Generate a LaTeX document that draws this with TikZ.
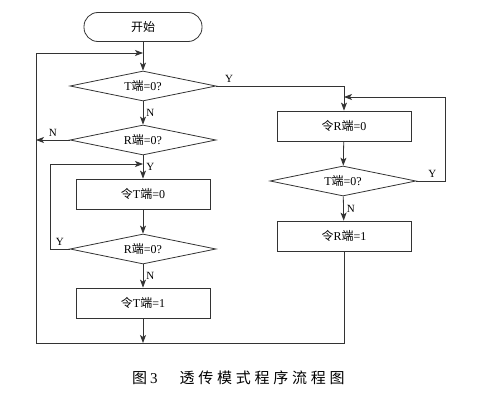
\documentclass[tikz,border=0pt]{standalone}
\usepackage{fontspec}
\setmainfont{Liberation Serif}
\newfontfamily\cjk{Noto Sans CJK SC}
\newfontfamily\cjkcap{Noto Sans CJK SC}[LetterSpace=25]
\usetikzlibrary{arrows.meta,shapes.geometric}
\definecolor{cInk}{HTML}{333333}
\newcommand{\zh}[1]{{\cjk #1}}
\tikzset{
  base/.style    = {draw=cInk, line width=0.8pt, align=center, inner sep=0pt,
                    font=\fontsize{12}{14}\selectfont},
  term/.style    = {base, rounded corners=14pt, minimum width=118pt, minimum height=29pt},
  proc/.style    = {base, rectangle, minimum width=134pt, minimum height=30pt},
  decide/.style  = {base, diamond, aspect=4.87, minimum width=146pt, minimum height=30pt},
  flow/.style    = {-{Stealth[length=8pt,width=6pt,inset=2pt]}, line width=0.8pt, draw=cInk},
  yn/.style      = {font=\fontsize{11}{12}\selectfont, inner sep=3pt},
}

\begin{document}
\begin{tikzpicture}[x=1pt, y=-1pt]
  \useasboundingbox (0,0) rectangle (479,404);
  % ---- left column ----
  \node[term]   (start) at (143,27)  {\zh{开始}};
  \node[decide] (tq)    at (143,86)  {T\zh{端}=0?};
  \node[decide] (rq)    at (143,140) {R\zh{端}=0?};
  \node[proc]   (tlow)  at (143,194) {\zh{令}T\zh{端}=0};
  \node[decide] (rqb)   at (143,249) {R\zh{端}=0?};
  \node[proc]   (thigh) at (143,303) {\zh{令}T\zh{端}=1};
  % ---- right column ----
  \node[proc]   (rlow)  at (344,126) {\zh{令}R\zh{端}=0};
  \node[decide] (tqb)   at (343,181) {T\zh{端}=0?};
  \node[proc]   (rhigh) at (344,236) {\zh{令}R\zh{端}=1};
  % ---- junctions ----
  \coordinate (jtop)  at (143,53);
  \coordinate (jbot)  at (143,343);
  \coordinate (cbl)   at (36,343);
  \coordinate (jleft) at (36,140);
  \coordinate (jmid)  at (143,164);
  \coordinate (cml)   at (50,164);
  \coordinate (jr)    at (344,97);
  \coordinate (cr)    at (445,97);
  % ---- connectors ----
  \draw[flow] (start) -- (tq);
  \draw[flow] (tq) -- node[yn, right] {N} (rq);
  \draw[flow] (rq) -- node[yn, right] {Y} (tlow);
  \draw[flow] (tlow) -- (rqb);
  \draw[flow] (rqb) -- node[yn, right] {N} (thigh);
  \draw[flow] (thigh) -- (jbot);
  \draw[flow] (rq.west) -- node[yn, above] {N} (jleft);
  \draw[flow] (rqb.west) -- node[yn, above] {Y} (cml |- rqb.west) -- (cml) -- (jmid);
  \draw[flow] (rhigh.south) |- (cbl) |- (jtop);
  \draw[flow] (tq.east) -| node[yn, pos=0.05, above] {Y} (rlow);
  \draw[flow] (rlow) -- (tqb);
  \draw[flow] (tqb) -- node[yn, right] {N} (rhigh);
  \draw[flow] (tqb.east) -| node[yn, pos=0.28, above] {Y} (cr) -- (jr);
  % ---- caption ----
  \node[font=\fontsize{15}{17}\selectfont, anchor=west, inner sep=0pt] (cap) at (132,378)
    {{\cjk 图}\hspace{3pt}3\hspace{22pt}{\cjkcap 透传模式程序流程图}};
\end{tikzpicture}
\end{document}
